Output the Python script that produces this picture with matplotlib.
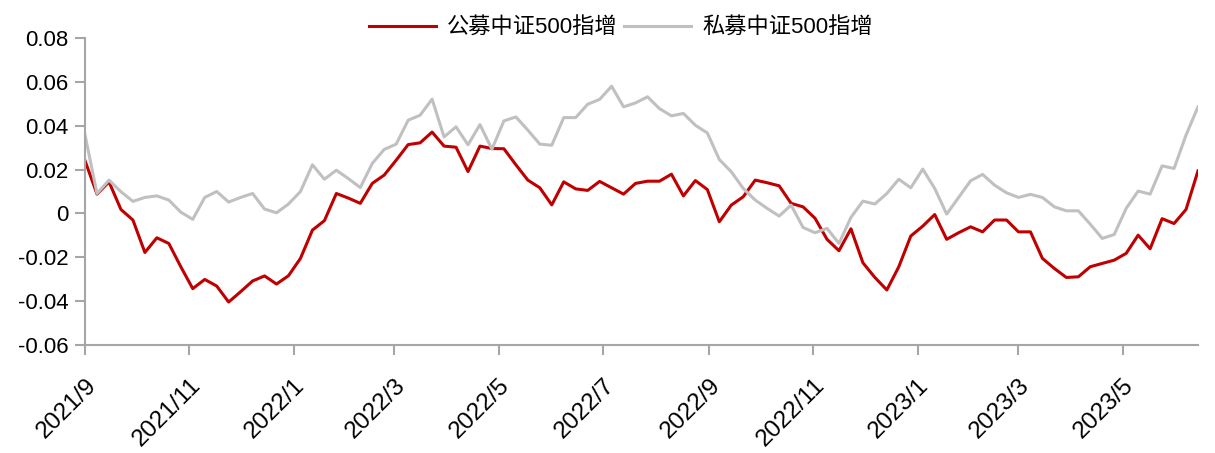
import pandas as pd
import matplotlib
matplotlib.use('Agg')
import matplotlib.pyplot as plt
from matplotlib.ticker import FuncFormatter
from matplotlib.transforms import ScaledTranslation

plt.rcParams['font.family'] = ['Liberation Sans', 'Noto Sans CJK SC', 'DejaVu Sans']

# weekly observations
start_date = '2021-09-01'
n_weeks = 94

# 公募中证500指增
public_fund = [0.024, 0.0088, 0.0144, 0.0018, -0.003, -0.0178, -0.0111, -0.0137, -0.0243, -0.0343,
               -0.0301, -0.0331, -0.0404, -0.0357, -0.0308, -0.0285, -0.0322, -0.0284, -0.0205, -0.0076,
               -0.0033, 0.0091, 0.007, 0.0046, 0.0137, 0.0175, 0.0243, 0.0314, 0.0322, 0.0371,
               0.0307, 0.0302, 0.0191, 0.0307, 0.0296, 0.0295, 0.0222, 0.0152, 0.0117, 0.0039,
               0.0144, 0.0112, 0.0105, 0.0146, 0.0117, 0.0088, 0.0137, 0.0147, 0.0147, 0.0179,
               0.008, 0.015, 0.0109, -0.0038, 0.0038, 0.0076, 0.0152, 0.014, 0.0126, 0.0046,
               0.003, -0.0022, -0.0118, -0.017, -0.007, -0.0225, -0.0292, -0.0349, -0.0243, -0.0103,
               -0.0058, -0.0005, -0.0118, -0.0088, -0.0061, -0.0084, -0.003, -0.003, -0.0084, -0.0084,
               -0.0205, -0.0251, -0.0292, -0.0289, -0.0243, -0.0228, -0.0213, -0.0182, -0.0099, -0.0161,
               -0.0024, -0.0046, 0.0018, 0.0194]

# 私募中证500指增
private_fund = [0.0357, 0.0091, 0.0152, 0.0099, 0.0055, 0.0073, 0.008, 0.0061, 0.0006, -0.0027,
                0.0073, 0.01, 0.0052, 0.0073, 0.0091, 0.002, 0.0003, 0.0043, 0.01, 0.0222,
                0.0156, 0.0197, 0.0159, 0.0118, 0.0228, 0.0292, 0.0316, 0.0425, 0.0448, 0.0521,
                0.0349, 0.0395, 0.0313, 0.0405, 0.0293, 0.0422, 0.044, 0.038, 0.0316, 0.0311,
                0.0437, 0.0437, 0.0498, 0.052, 0.058, 0.0486, 0.0504, 0.0532, 0.0478, 0.0445,
                0.0456, 0.0402, 0.0367, 0.0246, 0.019, 0.0114, 0.0061, 0.0023, -0.0012, 0.0038,
                -0.0064, -0.0088, -0.0068, -0.0137, -0.0018, 0.0056, 0.0043, 0.0091, 0.0156, 0.0117,
                0.0202, 0.0114, -0.0003, 0.0073, 0.0149, 0.0178, 0.0129, 0.0094, 0.0073, 0.0087,
                0.0073, 0.003, 0.0012, 0.0012, -0.0049, -0.0114, -0.0096, 0.0023, 0.0102, 0.0088,
                0.0217, 0.0205, 0.0357, 0.0486]

labels = ['公募中证500指增', '私募中证500指增']
y_ticks = [0.08, 0.06, 0.04, 0.02, 0, -0.02, -0.04, -0.06]

dates = pd.date_range(start_date, periods=n_weeks, freq='7D')
x_ticks = pd.date_range('2021-09-01', '2023-05-01', freq='2MS')

fig = plt.figure(figsize=(12.15, 4.53), dpi=100)
ax = fig.add_axes([0.070, 0.2384, 0.916, 0.6777])

ax.plot(dates, public_fund, color='#C00000', linewidth=2.2, label=labels[0])
ax.plot(dates, private_fund, color='#C0C0C0', linewidth=2.2, label=labels[1])

ax.set_xlim(dates[0], dates[-1])
ax.set_ylim(-0.06, 0.08)
ax.set_yticks(y_ticks)
ax.yaxis.set_major_formatter(FuncFormatter(lambda v, p: '{:g}'.format(round(v, 2))))
ax.set_xticks(x_ticks)
ax.set_xticklabels(['{}/{}'.format(d.year, d.month) for d in x_ticks],
                   rotation=45, ha='right', va='top', rotation_mode='anchor', fontsize=17.5)
# nudge date labels a little to the right
shift = ScaledTranslation(7 / 100, 0, fig.dpi_scale_trans)
for lbl in ax.get_xticklabels():
    lbl.set_transform(lbl.get_transform() + shift)

# axis styling
for side in ['top', 'right']:
    ax.spines[side].set_visible(False)
for side in ['left', 'bottom']:
    ax.spines[side].set_color('#A6A6A6')
    ax.spines[side].set_linewidth(1.5)
ax.tick_params(axis='both', colors='#A6A6A6', width=1.5, length=7, labelcolor='black')
ax.tick_params(axis='y', pad=5, labelsize=16)
ax.tick_params(axis='x', pad=14)

# legend above plot
fig.legend(loc='center', bbox_to_anchor=(0.511, 0.938), ncol=2, frameon=False,
           fontsize=16, handlelength=3.0, handletextpad=0.5, columnspacing=0.3)

plt.savefig('out.png', dpi=100)
